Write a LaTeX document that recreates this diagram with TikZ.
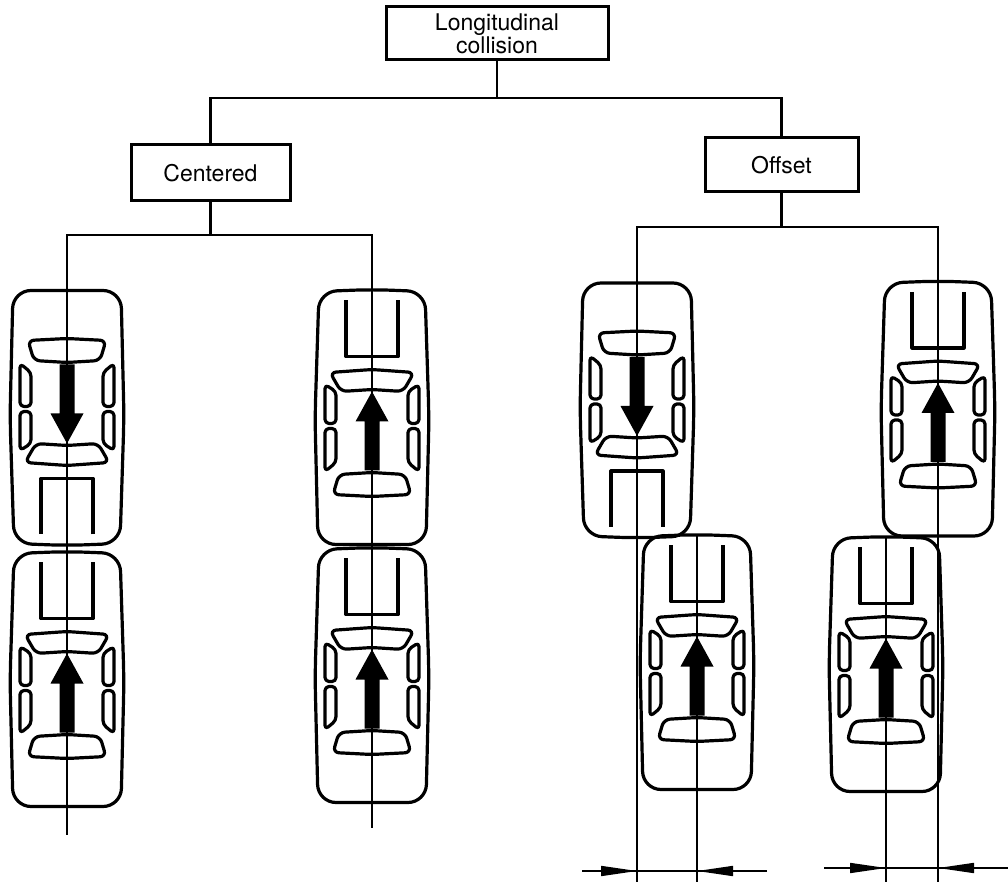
\documentclass[tikz,border=0pt]{standalone}
\usepackage{fontspec}
\setmainfont{TeX Gyre Heros}
\usetikzlibrary{arrows.meta}

\begin{document}
\begin{tikzpicture}[
    x=0.5pt, y=-0.5pt,
    box/.style={draw, line width=1.5pt, inner sep=0pt, align=center, font=\fontsize{11.5}{11.5}\selectfont},
    wire/.style={line width=1.1pt},
    axis/.style={line width=0.6pt},
    carline/.style={line width=1.6pt, line join=round},
    dimtip/.style={-{Triangle[length=18pt, width=5pt]}, line width=0.8pt},
    car/.pic={
        % body, hood and windows
        \draw[carline, rounded corners=9pt] (0,-128) -- (53,-126) -- (57,0) -- (54,127) -- (-54,127) -- (-57,0) -- (-53,-126) -- cycle;
        \draw[carline] (-26,-117) -- (-26,-61) -- (26,-61) -- (26,-117);
        \draw[carline, rounded corners=3pt] (-42,-45) -- (0,-48) -- (42,-45) -- (31,-26) -- (0,-28) -- (-31,-26) -- cycle;
        \draw[carline, rounded corners=3pt] (-33,57) -- (0,55) -- (33,57) -- (39,77) -- (0,79) -- (-39,77) -- cycle;
        \draw[carline, rounded corners=2pt] (-47,-33) -- (-36,-26) -- (-36,6) -- (-47,6) -- cycle;
        \draw[carline, rounded corners=2pt] (-47,11) -- (-36,11) -- (-36,45) -- (-47,54) -- cycle;
        \draw[carline, rounded corners=2pt] (47,-33) -- (36,-26) -- (36,6) -- (47,6) -- cycle;
        \draw[carline, rounded corners=2pt] (47,11) -- (36,11) -- (36,45) -- (47,54) -- cycle;
        % direction of travel
        \fill (0,-26) -- (16.5,4) -- (7.5,4) -- (7.5,53) -- (-7.5,53) -- (-7.5,4) -- (-16.5,4) -- cycle;
        \coordinate (-front) at (0,-127);
        \coordinate (-rear) at (0,127);
    }
]
    \useasboundingbox (0,0) rectangle (1008,882);

    % Boxes
    \node[box, minimum width=111pt, minimum height=26.5pt] (long) at (497,33.5) {Longitudinal\\collision};
    \node[box, minimum width=79.5pt, minimum height=28pt] (cent) at (210.5,173) {Centered};
    \node[box, minimum width=76.5pt, minimum height=27pt] (off) at (781.5,165) {Offset};

    % Cars, centered
    \pic[rotate=180] (car1) at (67,417.5) {car};
    \pic (car2) at (67,679.5) {car};
    \pic (car3) at (372,417.5) {car};
    \pic (car4) at (372,675.5) {car};

    % Cars, offset
    \pic[rotate=180] (car5) at (637,410) {car};
    \pic (car6) at (697,662.5) {car};
    \pic (car7) at (938,409) {car};
    \pic (car8) at (886,664.5) {car};

    % Tree
    \coordinate (tsplit) at (497,98);
    \coordinate (csplit) at (210.5,235);
    \coordinate (osplit) at (781.5,227);
    \draw[wire] (long) -- (tsplit);
    \draw[wire] (cent) |- (tsplit) -| (off);
    \draw[wire] (cent) -- (csplit);
    \draw[wire] (car1-rear) |- (csplit) -| (car3-front);
    \draw[wire] (off) -- (osplit);
    \draw[wire] (car5-rear) |- (osplit) -| (car7-front);

    % Centre lines
    \coordinate (c1end) at (67,835);
    \coordinate (c3end) at (372,828);
    \coordinate (c5end) at (637,882);
    \coordinate (c6end) at (697,882);
    \coordinate (c7end) at (938,882);
    \coordinate (c8end) at (886,882);
    \draw[axis] (car1-rear) -- (c1end);
    \draw[axis] (car3-front) -- (c3end);
    \draw[axis] (car5-rear) -- (c5end);
    \draw[axis] (car6-front) -- (c6end);
    \draw[axis] (car7-front) -- (c7end);
    \draw[axis] (car8-front) -- (c8end);

    % Offset dimensions
    \coordinate (d1a) at (582,871);
    \coordinate (d1b) at (637,871);
    \coordinate (d1c) at (697,871);
    \coordinate (d1d) at (767,871);
    \coordinate (d2a) at (824,868);
    \coordinate (d2b) at (886,868);
    \coordinate (d2c) at (938,868);
    \coordinate (d2d) at (1008,868);
    \draw[axis] (d1a) -- (d1d);
    \draw[dimtip] (d1a) -- (d1b);
    \draw[dimtip] (d1d) -- (d1c);
    \draw[axis] (d2a) -- (d2d);
    \draw[dimtip] (d2a) -- (d2b);
    \draw[dimtip] (d2d) -- (d2c);
\end{tikzpicture}
\end{document}
